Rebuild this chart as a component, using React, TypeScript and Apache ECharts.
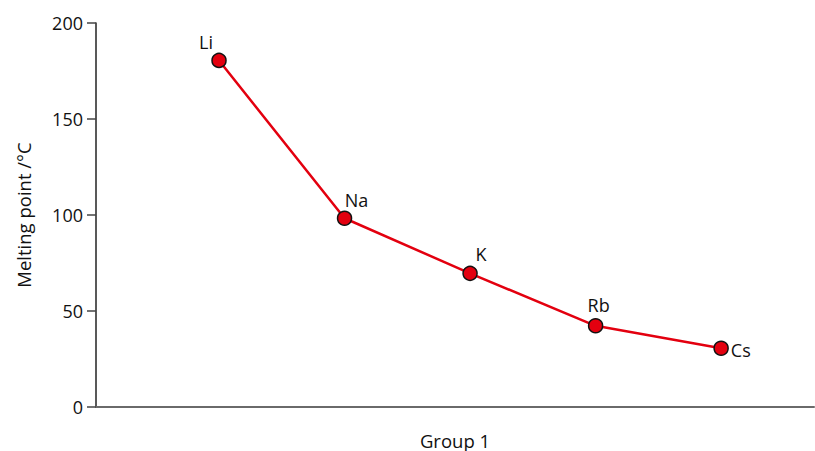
import React, { useEffect, useRef } from "react";
import * as echarts from "echarts";

const elements = ["Li", "Na", "K", "Rb", "Cs"];
const groupPositions = [1, 2, 3, 4, 5];
const meltingPoints = [180.5, 98.3, 69.6, 42.3, 30.6];
const yTicks = { min: 0, max: 200, interval: 50 };

// label placement (style only)
const labelPlacement: { position: string; offset: [number, number] }[] = [
  { position: "top", offset: [-13, 3] },
  { position: "top", offset: [12, 3] },
  { position: "top", offset: [11, 2] },
  { position: "top", offset: [3, 1] },
  { position: "right", offset: [-3, 2] },
];

const FONT = "'Open Sans', 'Noto Sans', sans-serif";

export default function App() {
  const ref = useRef<HTMLDivElement>(null);
  useEffect(() => {
    if (!ref.current) return;
    const chart = echarts.init(ref.current, null, { renderer: "svg" });
    const data = elements.map((el, i) => ({
      value: [groupPositions[i], meltingPoints[i]],
      name: el,
      label: {
        show: true,
        formatter: el,
        position: labelPlacement[i].position,
        offset: labelPlacement[i].offset,
      },
    }));
    chart.setOption({
      animation: false,
      backgroundColor: "#ffffff",
      textStyle: { fontFamily: FONT },
      grid: {
        left: 96,
        right: 1,
        top: 23,
        bottom: 44,
        containLabel: false,
        outerBoundsMode: "none",
      },
      xAxis: {
        type: "value",
        min: 0.02,
        max: 5.74,
        name: "Group 1",
        nameLocation: "middle",
        nameGap: 23,
        nameTextStyle: { fontSize: 18.5, lineHeight: 20, color: "#111", fontFamily: FONT },
        axisLine: { show: true, onZero: false, lineStyle: { color: "#6a6a6a", width: 2 } },
        axisTick: { show: false },
        axisLabel: { show: false },
        splitLine: { show: false },
      },
      yAxis: {
        type: "value",
        min: yTicks.min,
        max: yTicks.max,
        interval: yTicks.interval,
        name: "Melting point /°C",
        nameLocation: "middle",
        nameGap: 63,
        nameTextStyle: { fontSize: 18.5, color: "#111", fontFamily: FONT },
        axisLine: { show: true, lineStyle: { color: "#222", width: 1.5 } },
        axisTick: { show: true, length: 9, lineStyle: { color: "#444", width: 1.5 } },
        axisLabel: { margin: 13, fontSize: 18, color: "#111", fontFamily: FONT },
        splitLine: { show: false },
      },
      series: [
        {
          type: "line",
          data,
          symbol: "circle",
          symbolSize: 14,
          lineStyle: { color: "#e3000f", width: 2.5 },
          itemStyle: { color: "#e3000f", borderColor: "#111", borderWidth: 1.5 },
          label: { show: true, fontSize: 18, color: "#111", fontFamily: FONT, distance: 5 },
          z: 3,
        },
      ],
    });
    return () => chart.dispose();
  }, []);
  return <div ref={ref} style={{ width: 815, height: 451, position: "absolute", left: 0, top: 0 }} />;
}
